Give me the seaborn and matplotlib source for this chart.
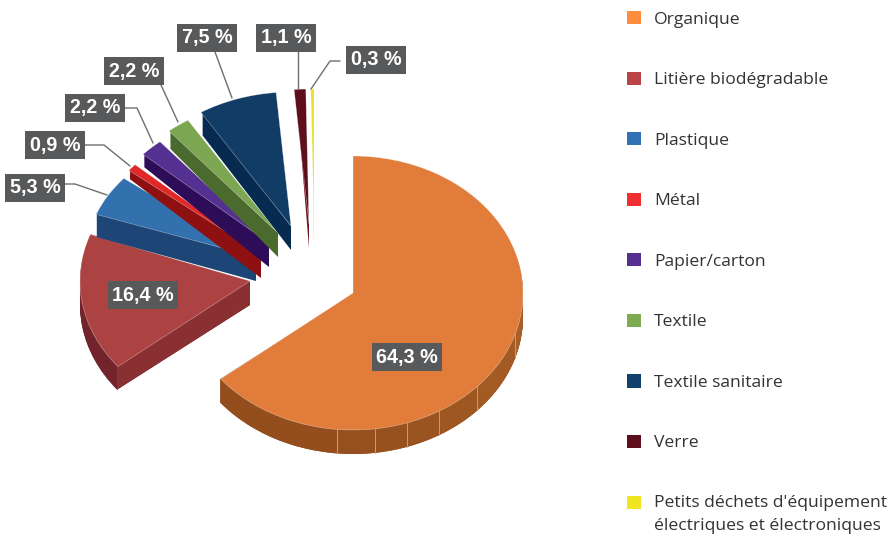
import numpy as np
import matplotlib
matplotlib.use("Agg")
import matplotlib.pyplot as plt
from matplotlib.patches import Patch
from matplotlib.transforms import Affine2D
import seaborn as sns

categories = ["Organique", "Litière biodégradable", "Plastique", "Métal", "Papier/carton",
              "Textile", "Textile sanitaire", "Verre",
              "Petits déchets d'équipement\nélectriques et électroniques"]
values = [64.3, 16.4, 5.3, 0.9, 2.2, 2.2, 7.5, 1.1, 0.3]
value_labels = ["64,3 %", "16,4 %", "5,3 %", "0,9 %", "2,2 %", "2,2 %", "7,5 %", "1,1 %", "0,3 %"]

# look of the slices: top face, cut face, rim, legend
top_colors = ["#E27C3B", "#AD4242", "#3270AE", "#E02828", "#543090", "#7CA651", "#103C66", "#5E0F1B", "#E8E020"]
cut_colors = ["#964F1E", "#8A3033", "#1D4575", "#8E1010", "#2E0D58", "#4A6A2E", "#072A50", "#6B1420", "#9F9A10"]
rim_colors = ["#964F1E", "#72242A"]
legend_colors = ["#FF8B3F", "#B94447", "#3371B6", "#F03030", "#55308F", "#7CAB50", "#123F6B", "#5E0F1B", "#F0E520"]

# exploded layout in pixels
apex_x = [353, 250, 256, 261, 269, 278, 291, 309, 314]
apex_y = [293, 281, 257, 254, 243, 233, 226, 224, 224]
radius_x = 170
radius_y = [137, 136, 125, 133, 132, 133, 134, 135, 135]
depth = 24
far_depth = [24, 24, 24, 10, 14, 19, 24, 4, 3]

label_x = [407, 143, 35, 55, 95, 134, 207, 286, 376]
label_y = [357, 295, 188, 145, 108, 71, 38, 38, 60]
leaders = [None, None,
           ([65, 75, 107], [184, 184, 195]),
           ([85, 104, 130], [145, 145, 166]),
           ([125, 137, 153], [108, 108, 143]),
           ([161, 178], [85, 122]),
           ([215, 232], [52, 98]),
           ([298, 298], [52, 89]),
           ([340, 330, 311], [61, 61, 89])]

# facets on the rim of the big slice, degrees clockwise from the top
facet_angles = [107.6, 133, 149.6, 161.5, 172.6, 185.4]
facet_colors = ["#A85E25", "#A35A23", "#9E5721", "#9A5420", "#97511F", "#964F1E", "#944E1D"]

sns.set_theme(style="white")
plt.rcParams["font.family"] = ["Open Sans", "DejaVu Sans"]

fig = plt.figure(figsize=(8.89, 5.35), dpi=100)
ax = fig.add_axes([0, 0, 1, 1])
shares = [v / 100 for v in values]


def slice_transform(i, drop=0):
    return Affine2D().scale(radius_x, -radius_y[i]).translate(apex_x[i], apex_y[i] + drop) + ax.transData


# rim sweep, from the lowest layer up; only the two big slices show one
for drop in range(depth, 0, -1):
    wedges, _ = ax.pie(shares[:2], colors=sns.color_palette(rim_colors), startangle=90, counterclock=False,
                       normalize=False, wedgeprops={"linewidth": 0})
    for i, w in enumerate(wedges):
        w.set_transform(slice_transform(i, drop))
        w.set_zorder(10 * i + 1)
    edges = [0] + facet_angles + [values[0] * 3.6]
    facets = [(b - a) / 360 for a, b in zip(edges[:-1], edges[1:])]
    wedges, _ = ax.pie(facets, colors=facet_colors, startangle=90, counterclock=False, normalize=False,
                       wedgeprops={"linewidth": 0})
    for w in wedges:
        w.set_transform(slice_transform(0, drop))
        w.set_zorder(1.5)

# thin light seams between the facets
for a in facet_angles:
    x = apex_x[0] + radius_x * np.sin(np.radians(a))
    y = apex_y[0] - radius_y[0] * np.cos(np.radians(a))
    ax.plot([x, x], [y, y + depth], color="#D09A70", lw=0.7, zorder=2)

# cut faces: the edge where each exploded slice starts, thinner at the far end
start = np.cumsum([0] + values[:-1]) * 3.6
for i in range(1, len(values)):
    x = apex_x[i] + radius_x * np.sin(np.radians(start[i]))
    y = apex_y[i] - radius_y[i] * np.cos(np.radians(start[i]))
    ax.fill([apex_x[i], x, x, apex_x[i]], [apex_y[i], y, y + far_depth[i], apex_y[i] + depth],
            color=cut_colors[i], lw=0, zorder=10 * i + 2)

# top faces
wedges, _ = ax.pie(shares, colors=sns.color_palette(top_colors), startangle=90, counterclock=False,
                   wedgeprops={"linewidth": 0.4, "edgecolor": "#FFFFFF80"})
for i, w in enumerate(wedges):
    w.set_transform(slice_transform(i))
    w.set_zorder(10 * i + 3)

for i, lab in enumerate(value_labels):
    if leaders[i] is not None:
        ax.plot(leaders[i][0], leaders[i][1], color="#6E6E6E", lw=1, zorder=150)
    ax.text(label_x[i], label_y[i], lab, color="white", fontsize=14.2, fontweight="bold",
            family="Liberation Sans", ha="center", va="center", zorder=200,
            bbox={"boxstyle": "square,pad=0.22", "facecolor": "#58595B", "edgecolor": "none"})

ax.set_aspect("auto")
ax.set_xlim(0, 889)
ax.set_ylim(535, 0)
ax.axis("off")

handles = [Patch(facecolor=c, edgecolor="none", label=n) for c, n in zip(legend_colors, categories)]
leg = ax.legend(handles=handles, loc="upper left", bbox_to_anchor=(627, 11), bbox_transform=ax.transData,
                frameon=False, fontsize=12.6, labelcolor="#333333", borderpad=0, borderaxespad=0,
                handlelength=0.8, handleheight=0.8, handletextpad=0.75, labelspacing=2.5)
# two-line entry: wider line gap, square next to the first line
leg.get_texts()[-1].set_linespacing(1.6)
last = leg.legend_handles[-1]
last.set_y(last.get_y() + 9)

fig.savefig("out.png", dpi=100)
